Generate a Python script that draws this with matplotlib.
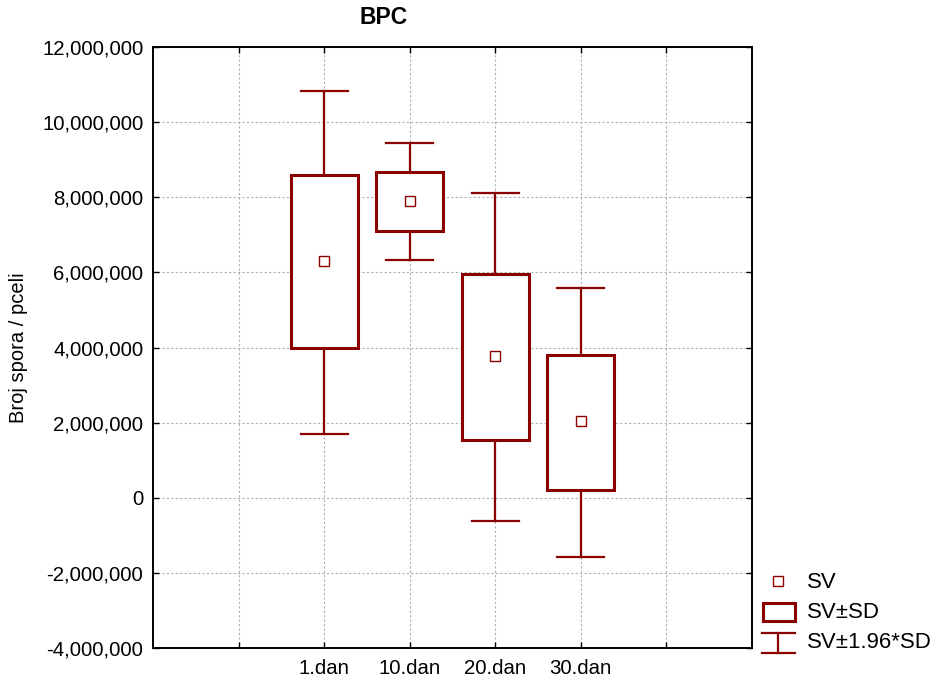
import numpy as np
import matplotlib.pyplot as plt
from matplotlib.ticker import FuncFormatter
from matplotlib.patches import Rectangle
from matplotlib.lines import Line2D

plt.rcParams['font.family'] = ['Liberation Sans', 'DejaVu Sans']

# values
days = ['1.dan', '10.dan', '20.dan', '30.dan']
mean = [6300000, 7910000, 3780000, 2040000]
sd_low = [3990000, 7110000, 1540000, 210000]
sd_high = [8600000, 8660000, 5960000, 3800000]
ci_low = [1700000, 6330000, -620000, -1570000]
ci_high = [10840000, 9440000, 8110000, 5590000]

red = '#8b0000'
fig = plt.figure(figsize=(9.35, 6.8), dpi=100)
ax = fig.add_axes([153 / 935, 32 / 680, 599 / 935, 601 / 680])

pos = np.arange(2, 2 + len(days))
box_w = 0.78
cap_w = 0.55
for x, m, sl, sh, cl, ch in zip(pos, mean, sd_low, sd_high, ci_low, ci_high):
    # whiskers
    ax.plot([x, x], [sh, ch], color=red, lw=1.6, zorder=2)
    ax.plot([x, x], [cl, sl], color=red, lw=1.6, zorder=2)
    ax.plot([x - cap_w / 2, x + cap_w / 2], [ch, ch], color=red, lw=1.6, zorder=2)
    ax.plot([x - cap_w / 2, x + cap_w / 2], [cl, cl], color=red, lw=1.6, zorder=2)
    ax.add_patch(Rectangle((x - box_w / 2, sl), box_w, sh - sl, facecolor='white',
                           edgecolor=red, lw=2.2, zorder=3))
ax.plot(pos, mean, linestyle='none', marker='s', markersize=7, markerfacecolor='white',
        markeredgecolor=red, markeredgewidth=1.0, zorder=4)

ax.set_xlim(0, 7)
ax.set_ylim(-4000000, 12000000)
ax.set_xticks(np.arange(1, 7))
ax.set_xticklabels([''] + days + [''])
ax.set_yticks(np.arange(-4000000, 12000001, 2000000))
ax.yaxis.set_major_formatter(FuncFormatter(lambda v, p: f'{int(v):,}'))
ax.tick_params(direction='in', length=4, width=1, top=True, right=True,
               labelsize=14.7, pad=7, colors='black')
ax.tick_params(axis='x', pad=8)
ax.grid(True, color='#b0b0b0', linestyle=(0, (2, 2)), lw=0.8)
ax.set_axisbelow(True)
for s in ax.spines.values():
    s.set_linewidth(1.4)

fig.text(384 / 935, 1 - 18 / 680, 'BPC', fontsize=16.5, fontweight='bold',
         ha='center', va='center')
ax.set_ylabel('Broj spora / pceli', fontsize=14.5)
ax.yaxis.set_label_coords(-(153 - 28) / 599, 0.5)

# legend drawn beside the plot
fig.patches.append(Rectangle((763 / 935, 1 - 621 / 680), 32 / 935, 18 / 680,
                             transform=fig.transFigure, facecolor='white',
                             edgecolor=red, lw=2.2))
fig.lines.append(Line2D([778 / 935], [1 - 581 / 680], transform=fig.transFigure,
                        marker='s', markersize=7, markerfacecolor='white',
                        markeredgecolor=red, markeredgewidth=1.0, linestyle='none'))
for xs, ys in [([762, 795], [633, 633]), ([762, 795], [653, 653]), ([778, 778], [633, 653])]:
    fig.lines.append(Line2D([v / 935 for v in xs], [1 - v / 680 for v in ys],
                            transform=fig.transFigure, color=red, lw=1.6))
for label, yy in [('SV', 582), ('SV±SD', 612), ('SV±1.96*SD', 642)]:
    fig.text(807 / 935, 1 - yy / 680, label, fontsize=16, va='center', ha='left')

fig.savefig('out.png', dpi=100)
